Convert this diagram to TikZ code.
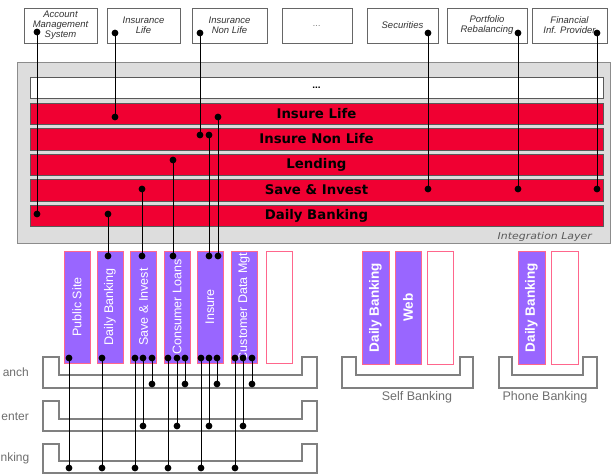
\documentclass[tikz,border=0pt]{standalone}
\usepackage{fontspec}
\setmainfont{Liberation Sans}
\newfontfamily\dejavu{DejaVu Sans}
\usepackage{graphicx}
\definecolor{barred}{RGB}{240,0,50}
\definecolor{colpurple}{RGB}{153,102,255}
\definecolor{pinkb}{RGB}{255,102,140}
\definecolor{layergrey}{RGB}{221,221,221}
\definecolor{traygrey}{RGB}{128,128,128}
\definecolor{labgrey}{RGB}{110,110,110}
\newcommand\drawtray[7]{%
  \draw[tray] (#1,#5) -- (#2,#5) -- (#2,#6) -- (#3,#6) -- (#3,#5) -- (#4,#5) -- (#4,#7) -- (#1,#7) -- cycle;}
\begin{document}
\begin{tikzpicture}[x=1pt,y=-1pt,
  topbox/.style={draw=black!60, fill=white, line width=0.9pt, minimum height=35pt, inner sep=1pt, align=center,
    font=\fontsize{9.5}{10}\selectfont\itshape, text=black!80},
  bar/.style={draw=black!65, fill=barred, minimum width=573pt, minimum height=21.5pt, inner sep=0pt,
    font=\dejavu\bfseries\fontsize{13.3}{15}\selectfont},
  colbox/.style={draw=pinkb, fill=colpurple, line width=0.8pt, minimum width=112pt, minimum height=26pt,
    rotate=90, inner sep=0pt, text=white, font=\fontsize{12.5}{14}\selectfont},
  selfcol/.style={colbox, minimum width=113pt, minimum height=27pt, font=\bfseries\fontsize{13.5}{15}\selectfont},
  emptycol/.style={colbox, fill=white},
  tray/.style={draw=traygrey, line width=1.1pt},
  chanlab/.style={text=labgrey, font=\fontsize{12.5}{14}\selectfont, inner sep=0pt},
  edgelab/.style={chanlab, anchor=east, font=\fontsize{12}{14}\selectfont},
  conn/.style={draw=black, line width=0.8pt},
  dotf/.style={fill=black}
]
\useasboundingbox (0,0) rectangle (611,474);

% integration layer
\node[draw=black!45, fill=layergrey, minimum width=593pt, minimum height=181pt, inner sep=0pt] (layer) at (313.5,152.5) {};
\node[bar, fill=white, font=\bfseries\fontsize{10}{12}\selectfont] (more) at (316.5,87.5) {...};
\node[bar] (ilife) at (316.5,113.5) {Insure Life};
\node[bar] (inonlife) at (316.5,139) {Insure Non Life};
\node[bar] (lending) at (316.5,164.5) {Lending};
\node[bar] (save) at (316.5,190) {Save \& Invest};
\node[bar] (daily) at (316.5,215.5) {Daily Banking};
\node[anchor=east, text=black!65, inner sep=0pt] (intlab) at (592,237)
  {\scalebox{1.15}[1]{\dejavu\itshape\fontsize{9.5}{11}\selectfont Integration Layer}};

% top systems
\node[topbox, minimum width=73pt] (b1) at (60.5,25.5) {Account\\Management\\System};
\node[topbox, minimum width=73pt] (b2) at (143.5,25.5) {Insurance\\Life};
\node[topbox, minimum width=75pt] (b3) at (229.5,25.5) {Insurance\\Non Life};
\node[topbox, minimum width=70pt, text=black!50] (b4) at (317,25.5) {...};
\node[topbox, minimum width=71pt] (b5) at (402.5,25.5) {Securities};
\node[topbox, minimum width=80pt] (b6) at (487,25.5) {Portfolio\\Rebalancing};
\node[topbox, minimum width=75pt] (b7) at (569.5,25.5) {Financial\\Inf. Provider};

% trays
\drawtray{43}{59}{302}{317}{357}{375}{388}
\drawtray{43}{59}{302}{317}{401}{419}{431}
\drawtray{43}{59}{302}{317}{444}{461}{473}
\drawtray{342}{356}{460}{473}{357}{375}{388}
\drawtray{499}{512}{583}{597}{357}{375}{388}

% channel labels
\node[edgelab] (lbranch) at (29,372) {anch};
\node[edgelab] (lcontact) at (29,417) {enter};
\node[edgelab] (linternet) at (29.5,458) {nking};
\node[chanlab] (lself) at (417,397) {Self Banking};
\node[chanlab] (lphone) at (545,397) {Phone Banking};

% columns
\node[colbox] (c1) at (77,307) {Public Site};
\node[colbox] (c2) at (110,307) {Daily Banking};
\node[colbox] (c3) at (143.5,307) {Save \& Invest};
\node[colbox] (c4) at (177,307) {Consumer Loans};
\node[colbox] (c5) at (210,307) {Insure};
\node[colbox] (c6) at (244,307) {Customer Data Mgt};
\node[emptycol] (c7) at (279.5,307) {};
\node[selfcol] (s1) at (375.5,307.5) {Daily Banking};
\node[selfcol, minimum height=26pt] (s2) at (408,307.5) {Web};
\node[emptycol, minimum width=113pt] (s3) at (440,307.5) {};
\node[selfcol] (p1) at (531.5,307.5) {Daily Banking};
\node[emptycol, minimum width=113pt, minimum height=27pt] (p2) at (564.5,307.5) {};

% connectors with dots at both ends
\foreach \n/\x/\ya/\yb in {
  a/37/32/214, b/115/33/117, c/200/33/135, d/428/33/189, e/518/33/189, f/597/33/189,
  g/108/214/256, h/142/189/256, i/173/160/256, j/209/135/256, k/218/117/256,
  l/69/358/468, m/102/358/468, n/135/358/468, o/143/358/426, p/152/358/384,
  q/168/358/468, r/177/358/426, s/185/358/384, t/201/358/468, u/209/358/426,
  v/217/358/384, w/235/358/468, x/243/358/426, y/252/358/384}
{
  \coordinate (u\n) at (\x,\ya);
  \coordinate (v\n) at (\x,\yb);
  \draw[conn] (u\n) -- (v\n);
  \fill[dotf] (u\n) circle (3.4pt);
  \fill[dotf] (v\n) circle (3.4pt);
}
\end{tikzpicture}
\end{document}
